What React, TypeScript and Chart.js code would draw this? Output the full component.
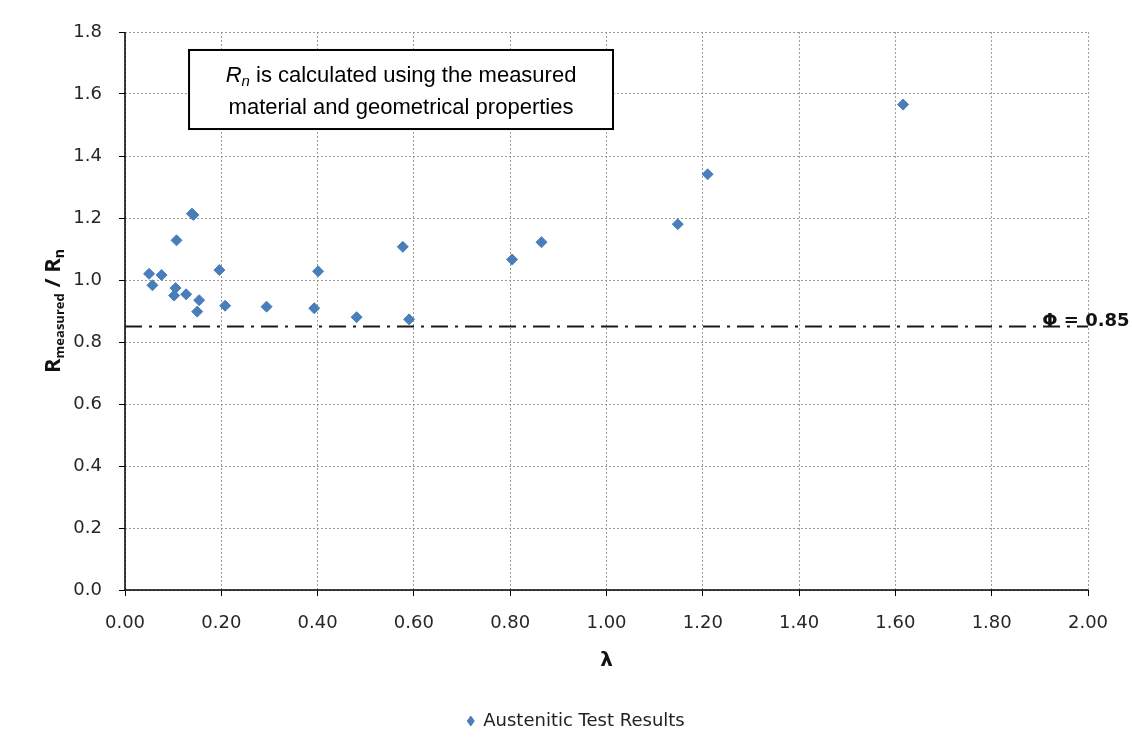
import React, { useEffect, useRef } from "react";
import { Chart, registerables } from "chart.js";

Chart.register(...registerables);

// ---- data ----
const lambdaValues = [
  0.050, 0.057, 0.076, 0.107, 0.105, 0.102, 0.127, 0.139, 0.142, 0.154, 0.150,
  0.196, 0.208, 0.294, 0.393, 0.401, 0.481, 0.577, 0.590, 0.804, 0.865, 1.148,
  1.210, 1.616,
];
const ratioValues = [
  1.020, 0.983, 1.016, 1.128, 0.974, 0.950, 0.954, 1.214, 1.210, 0.935, 0.898,
  1.032, 0.917, 0.914, 0.909, 1.028, 0.880, 1.107, 0.873, 1.066, 1.122, 1.180,
  1.341, 1.566,
];
const seriesLabel = "Austenitic Test Results";
const phiValue = 0.85;
const phiLabel = "Φ = 0.85";
const phiLineX = [0, 2];
const phiLabelX = 1.905;
const xTitle = "λ";
const noteLine1 = " is calculated using the measured";
const noteLine2 = "material and geometrical properties";
const noteBox = { x0: 0.133, x1: 1.0135, y0: 1.742, y1: 1.487 };
const xRange = { min: 0, max: 2, step: 0.2 };
const yRange = { min: 0, max: 1.8, step: 0.2 };

const MARKER = "#4a7ebb";
const TICK_FONT = "DejaVu Sans";

const overlayPlugin = {
  id: "overlay",
  beforeDatasetsDraw(chart: any) {
    const { ctx, chartArea } = chart;
    // solid axis lines (left and bottom)
    ctx.save();
    ctx.strokeStyle = "#000";
    ctx.lineWidth = 1.5;
    ctx.setLineDash([]);
    ctx.beginPath();
    ctx.moveTo(chartArea.left, chartArea.top);
    ctx.lineTo(chartArea.left, chartArea.bottom);
    ctx.lineTo(chartArea.right, chartArea.bottom);
    ctx.stroke();
    ctx.restore();
  },
  afterDatasetsDraw(chart: any) {
    const { ctx, scales } = chart;
    const xs = scales.x;
    const ys = scales.y;

    // Φ label
    ctx.save();
    ctx.font = "bold 18px 'DejaVu Sans'";
    ctx.fillStyle = "#111";
    ctx.textAlign = "left";
    ctx.textBaseline = "alphabetic";
    ctx.fillText(phiLabel, xs.getPixelForValue(phiLabelX), ys.getPixelForValue(phiValue) - 1);
    ctx.restore();

    // note box
    const bx0 = xs.getPixelForValue(noteBox.x0);
    const bx1 = xs.getPixelForValue(noteBox.x1);
    const by0 = ys.getPixelForValue(noteBox.y0);
    const by1 = ys.getPixelForValue(noteBox.y1);
    ctx.save();
    ctx.fillStyle = "#fff";
    ctx.fillRect(bx0, by0, bx1 - bx0, by1 - by0);
    ctx.lineWidth = 2;
    ctx.strokeStyle = "#000";
    ctx.strokeRect(bx0, by0, bx1 - bx0, by1 - by0);
    const cx = (bx0 + bx1) / 2;
    const fs = 22;
    const fam = "'Liberation Sans', Arial, sans-serif";
    ctx.fillStyle = "#000";
    ctx.textBaseline = "alphabetic";
    ctx.textAlign = "left";
    ctx.font = `italic ${fs}px ${fam}`;
    const wR = ctx.measureText("R").width;
    ctx.font = `italic ${Math.round(fs * 0.68)}px ${fam}`;
    const wn = ctx.measureText("n").width;
    ctx.font = `${fs}px ${fam}`;
    const wRest = ctx.measureText(noteLine1).width;
    const total1 = wR + wn + wRest;
    let x = cx - total1 / 2;
    const base1 = by0 + 32;
    ctx.font = `italic ${fs}px ${fam}`;
    ctx.fillText("R", x, base1);
    x += wR;
    ctx.font = `italic ${Math.round(fs * 0.68)}px ${fam}`;
    ctx.fillText("n", x, base1 + 4);
    x += wn;
    ctx.font = `${fs}px ${fam}`;
    ctx.fillText(noteLine1, x, base1);
    ctx.textAlign = "center";
    ctx.fillText(noteLine2, cx, base1 + 32);
    ctx.restore();
  },
  afterDraw(chart: any) {
    const { ctx, chartArea } = chart;
    // rotated y-axis title with subscripts
    const parts = [
      { t: "R", s: 22, dy: 0 },
      { t: "measured", s: 13, dy: 6 },
      { t: " / R", s: 22, dy: 0 },
      { t: "n", s: 14, dy: 6 },
    ];
    ctx.save();
    let total = 0;
    const widths = parts.map((p) => {
      ctx.font = `bold ${p.s}px 'Open Sans'`;
      const w = ctx.measureText(p.t).width;
      total += w;
      return w;
    });
    ctx.translate(54, (chartArea.top + chartArea.bottom) / 2);
    ctx.rotate(-Math.PI / 2);
    ctx.fillStyle = "#111";
    ctx.textBaseline = "middle";
    ctx.textAlign = "left";
    let x = -total / 2;
    parts.forEach((p, i) => {
      ctx.font = `bold ${p.s}px 'Open Sans'`;
      ctx.fillText(p.t, x, p.dy);
      x += widths[i];
    });
    ctx.restore();
  },
};

const gridOpts = {
  color: "#9a9a9a",
  tickColor: "#000",
  tickLength: 6,
  tickBorderDash: [],
} as any;

export default function App() {
  const canvasRef = useRef<HTMLCanvasElement | null>(null);

  useEffect(() => {
    if (!canvasRef.current) return;
    const points = lambdaValues.map((v, i) => ({ x: v, y: ratioValues[i] }));
    const phiLine = phiLineX.map((v) => ({ x: v, y: phiValue }));

    const chart = new Chart(canvasRef.current, {
      type: "scatter",
      data: {
        datasets: [
          {
            label: seriesLabel,
            data: points,
            backgroundColor: MARKER,
            borderColor: MARKER,
            pointStyle: "rectRot",
            pointRadius: 5.5,
            pointBorderWidth: 1,
            pointHoverRadius: 5.5,
          },
          {
            label: phiLabel,
            type: "line",
            data: phiLine,
            borderColor: "#1a1a1a",
            borderWidth: 2,
            borderDash: [17, 7, 3, 7],
            pointRadius: 0,
            showLine: true,
            fill: false,
          } as any,
        ],
      },
      options: {
        animation: false,
        responsive: true,
        maintainAspectRatio: false,
        layout: { padding: { left: 64, right: 44, top: 32, bottom: 16 } },
        plugins: {
          tooltip: { enabled: false },
          legend: {
            position: "bottom",
            labels: {
              filter: (item: any) => item.datasetIndex === 0,
              usePointStyle: true,
              pointStyle: "rectRot",
              boxHeight: 7,
              pointStyleWidth: 7,
              padding: 10,
              color: "#222",
              font: { family: TICK_FONT, size: 18 },
            },
          },
        },
        scales: {
          x: {
            type: "linear",
            min: xRange.min,
            max: xRange.max,
            afterFit: (s: any) => {
              s.height = 112;
            },
            ticks: {
              stepSize: xRange.step,
              padding: 17,
              color: "#262626",
              font: { family: TICK_FONT, size: 18 },
              callback: (v: any) => Number(v).toFixed(2),
              maxRotation: 0,
            },
            grid: gridOpts,
            border: { display: false, color: "#000", width: 0, dash: [2, 2] },
            title: {
              display: true,
              text: xTitle,
              color: "#111",
              font: { family: TICK_FONT, size: 20, weight: "bold" },
              padding: { top: 0, bottom: 29 },
            },
          },
          y: {
            type: "linear",
            min: yRange.min,
            max: yRange.max,
            afterFit: (s: any) => {
              s.width = 61;
            },
            ticks: {
              stepSize: yRange.step,
              padding: 17,
              color: "#262626",
              font: { family: TICK_FONT, size: 18 },
              callback: (v: any) => Number(v).toFixed(1),
            },
            grid: gridOpts,
            border: { display: false, color: "#000", width: 0, dash: [2, 2] },
          },
        },
      },
      plugins: [overlayPlugin],
    });
    return () => chart.destroy();
  }, []);

  return (
    <div
      style={{
        position: "fixed",
        left: 0,
        top: 0,
        width: 1132,
        height: 756,
        background: "#fff",
      }}
    >
      <canvas ref={canvasRef} />
    </div>
  );
}
